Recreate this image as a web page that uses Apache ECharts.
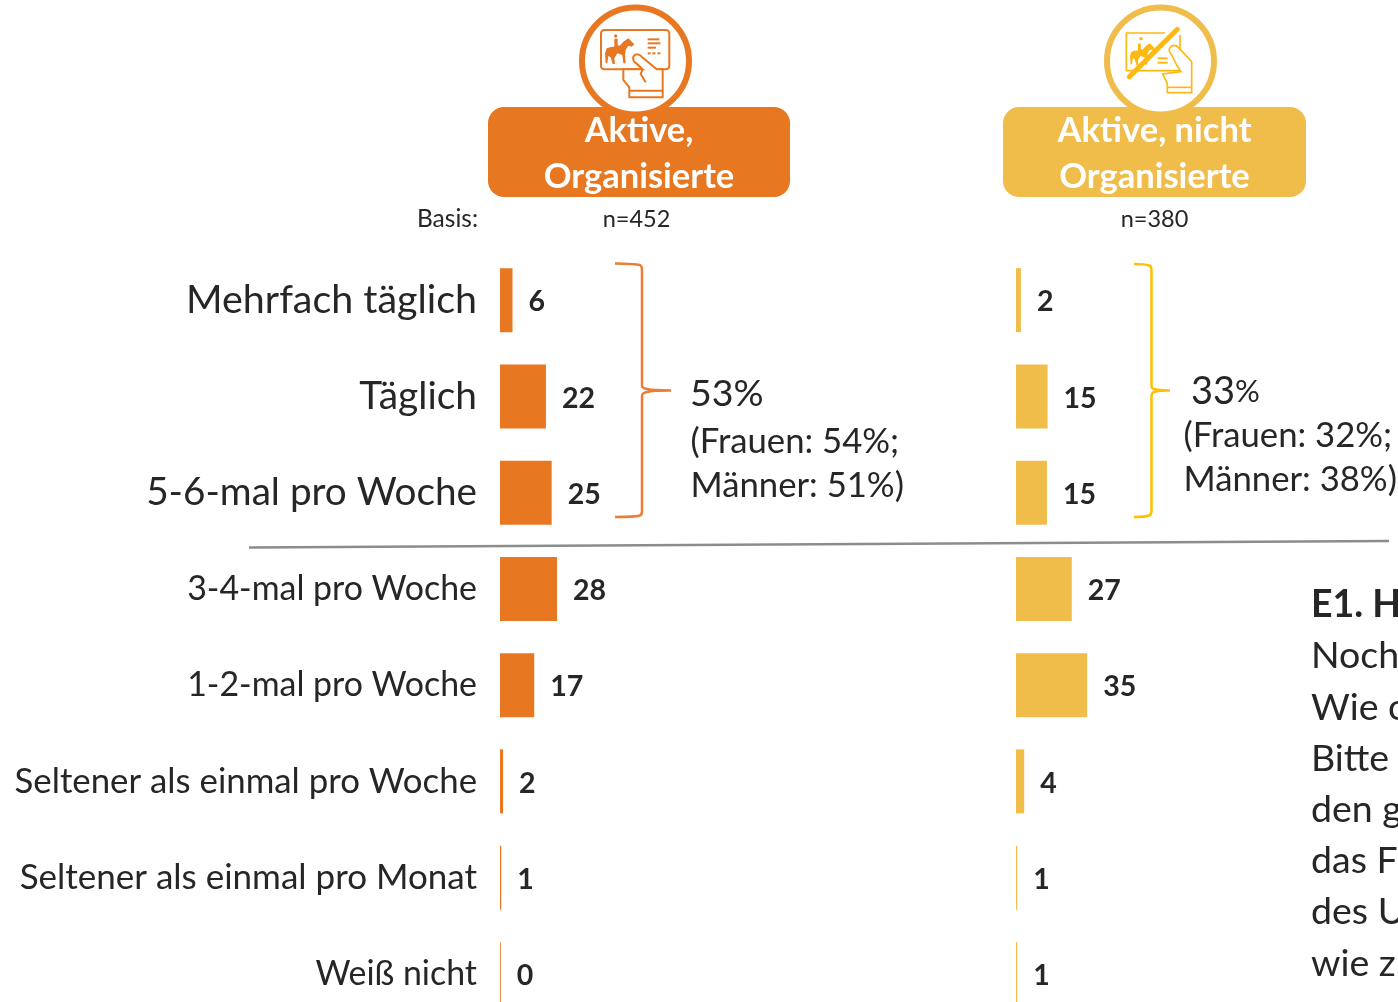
<!DOCTYPE html>
<html>
<head>
<meta charset="utf-8">
<title>Reithäufigkeit</title>
<script src="https://cdn.jsdelivr.net/npm/echarts@6/dist/echarts.min.js"></script>
<style>
    html, body { margin: 0; padding: 0; background: #fff; overflow: hidden; }
    #main { width: 1398px; height: 1002px; }
</style>
</head>
<body>
<div id="main"></div>
<script>
    var categories = ['Mehrfach täglich', 'Täglich', '5-6-mal pro Woche', '3-4-mal pro Woche', '1-2-mal pro Woche',
        'Seltener als einmal pro Woche', 'Seltener als einmal pro Monat', 'Weiß nicht'];
    // the printed labels are these values rounded
    var organisiert = [6.1, 22.4, 25.2, 27.8, 16.7, 1.5, 0.6, 0.4];
    var nichtOrganisiert = [2.4, 15.4, 15.1, 27.2, 34.7, 4.0, 0.6, 0.6];

    var orange = '#e87722', yellow = '#f0bd4b', iconYellow = '#fdb913', textColor = '#262626';
    var font = 'Lato';
    var rowFontSizes = [39.4, 38.9, 38.7, 33.9, 33.9, 34.8, 35, 33.9];

    function barSeries(xIndex, values, color) {
        return {
            type: 'bar',
            xAxisIndex: xIndex,
            yAxisIndex: xIndex,
            data: values,
            barWidth: 64,
            itemStyle: { color: color },
            silent: true,
            label: {
                show: true,
                position: 'right',
                distance: 16,
                fontFamily: font,
                fontWeight: 'bold',
                fontSize: 28.5,
                color: textColor,
                offset: [0, 2],
                formatter: function (p) { return Math.round(p.value); }
            }
        };
    }

    function txt(x, y, text, size, opts) {
        return {
            type: 'text',
            x: x,
            y: y,
            silent: true,
            style: Object.assign({
                text: text,
                fontFamily: font,
                fontSize: size,
                fill: textColor,
                align: 'left',
                verticalAlign: 'middle'
            }, opts || {})
        };
    }

    // the graphic component has no plain path type, so each outline gets registered as a shape
    var pathCount = 0;
    function svgPath(d, style, extra) {
        var name = 'outline' + (pathCount++);
        echarts.graphic.registerShape(name, echarts.graphic.extendPath(d, {}));
        return Object.assign({ type: name, silent: true, shape: {}, style: style }, extra || {});
    }

    // icon shapes are given in a 3x box, the groups below scale them back down
    var horse = 'M375 160L380 145Q395 137 415 142L430 125L445 115L463 133L455 140L445 137L437 150L435 165L437 190L430 190L427 165L412 160L403 175L405 192L398 192L392 172L385 168L382 190L377 190Z' +
        'M403 116L413 116L413 135L424 140L408 145L403 140Z';

    function iconOne() {
        var s = { fill: 'none', stroke: orange, lineWidth: 6 };
        var box = function (x, y, w, h) { return { type: 'rect', shape: { x: x, y: y, width: w, height: h }, style: { fill: orange } }; };
        return {
            type: 'group', x: 480, y: 0, scaleX: 1 / 3, scaleY: 1 / 3, silent: true,
            children: [
                { type: 'rect', shape: { x: 363, y: 90, width: 205, height: 118, r: 10 }, style: s },
                svgPath(horse, { fill: orange }),
                { type: 'circle', shape: { cx: 407, cy: 108, r: 5 }, style: { fill: orange } },
                box(503, 115, 35, 6), box(503, 127, 38, 6), box(503, 140, 25, 6),
                box(503, 157, 9, 6), box(517, 157, 9, 6), box(532, 157, 9, 6),
                svgPath('M548 208L548 292L448 292L448 262L430 240L430 208L488 208L462 184Q455 170 466 164Q476 160 485 170L530 208Z', { fill: '#fff', stroke: orange, lineWidth: 6 }),
                svgPath('M488 208L482 222L497 247M448 272L548 272', s)
            ]
        };
    }

    function iconTwo() {
        var s = { fill: 'none', stroke: iconYellow, lineWidth: 5 };
        var box = function (x, y, w, h) { return { type: 'rect', shape: { x: x, y: y, width: w, height: h }, style: { fill: iconYellow } }; };
        return {
            type: 'group', x: 990, y: 0, scaleX: 1 / 3, scaleY: 1 / 3, silent: true,
            children: [
                svgPath('M525 99L409 99L409 212L570 212L570 105', s),
                svgPath(horse, { fill: iconYellow }, { x: 45, y: 15, scaleX: 0.85, scaleY: 0.85, originX: 375, originY: 115 }),
                { type: 'circle', shape: { cx: 453, cy: 116, r: 5 }, style: { fill: iconYellow } },
                box(503, 172, 30, 6), box(503, 185, 30, 6),
                svgPath('M518 222L532 250L532 278L605 278L605 185L565 142Q552 130 540 142Q534 152 545 165L560 195L573 215L518 222Z', { fill: '#fff', stroke: iconYellow, lineWidth: 5 }),
                svgPath('M532 262L605 262', s),
                { type: 'line', shape: { x1: 418, y1: 230, x2: 562, y2: 88 }, style: { stroke: iconYellow, lineWidth: 15, lineCap: 'round' } }
            ]
        };
    }

    var graphics = [
        // header bands and icon rings
        { type: 'rect', silent: true, shape: { x: 488, y: 107, width: 302, height: 90, r: 16 }, style: { fill: orange } },
        { type: 'circle', silent: true, shape: { cx: 635.5, cy: 61, r: 53.5 }, style: { fill: '#fff', stroke: orange, lineWidth: 6 } },
        iconOne(),
        { type: 'rect', silent: true, shape: { x: 1003, y: 107, width: 303, height: 90, r: 16 }, style: { fill: yellow } },
        { type: 'circle', silent: true, shape: { cx: 1160.5, cy: 61, r: 53.5 }, style: { fill: '#fff', stroke: yellow, lineWidth: 6 } },
        iconTwo(),
        txt(639, 131, 'Aktive,', 34.5, { fill: '#fff', fontWeight: 'bold', align: 'center' }),
        txt(639, 176.5, 'Organisierte', 34.5, { fill: '#fff', fontWeight: 'bold', align: 'center' }),
        txt(1154.5, 131, 'Aktive, nicht', 34.5, { fill: '#fff', fontWeight: 'bold', align: 'center' }),
        txt(1154.5, 176.5, 'Organisierte', 34.5, { fill: '#fff', fontWeight: 'bold', align: 'center' }),
        txt(478, 219, 'Basis:', 24.5, { align: 'right' }),
        txt(636.5, 219, 'n=452', 23.5, { align: 'center' }),
        txt(1154.5, 219, 'n=380', 23.5, { align: 'center' }),

        // braces
        svgPath('M615 263.5Q635 264 640 265Q642 266 642 270L642 386Q642 388 647 389Q652 390.5 671 390.5Q652 390.5 647 392Q642 393 642 396L642 511Q642 515 640 515.5Q635 517 615 517', { fill: 'none', stroke: '#ed7d31', lineWidth: 2.5 }),
        svgPath('M1134 264Q1145 264 1149 265.5Q1151.5 266 1151.5 270L1151.5 386Q1151.5 388 1154 389Q1158 390.5 1170 390.5Q1158 390.5 1154 392Q1151.5 393 1151.5 396L1151.5 511Q1151.5 515 1149 515.5Q1145 517 1134 517', { fill: 'none', stroke: '#ffc000', lineWidth: 2.5 }),

        txt(690, 394, '53%', 37.5),
        txt(690.5, 442, '(Frauen: 54%;', 34.7),
        txt(690.5, 486, 'Männer: 51%)', 34.7),
        {
            type: 'text', silent: true, x: 1191, y: 391.5,
            style: {
                text: '{a|33}{b|%}', fontFamily: font, fill: textColor, verticalAlign: 'middle',
                rich: { a: { fontFamily: font, fontSize: 38, fill: textColor }, b: { fontFamily: font, fontSize: 31, fill: textColor } }
            }
        },
        txt(1183.5, 436, '(Frauen: 32%;', 34.7),
        txt(1183.5, 480, 'Männer: 38%)', 34.7),

        // divider between the top three rows and the rest
        { type: 'line', silent: true, shape: { x1: 249, y1: 547.5, x2: 1389, y2: 541 }, style: { stroke: '#8c8c8c', lineWidth: 2.5 } },

        // question text, runs off the right edge in the source too
        txt(1311, 605, 'E1. H', 37.5, { fontWeight: 'bold' }),
        txt(1311, 656, 'Noch', 37.5),
        txt(1311, 708, 'Wie o', 37.5),
        txt(1311, 759, 'Bitte', 37.5),
        txt(1311, 810, 'den g', 37.5),
        txt(1311, 861, 'das F', 37.5),
        txt(1311, 912, 'des U', 37.5),
        txt(1311, 964, 'wie z', 37.5)
    ];

    var rowRich = {};
    rowFontSizes.forEach(function (size, i) {
        rowRich['r' + i] = { fontFamily: font, fontSize: size, color: textColor };
    });

    var chart = echarts.init(document.getElementById('main'), null, { renderer: 'canvas' });
    var hiddenCat = {
        type: 'category', data: categories, inverse: true,
        axisLine: { show: false }, axisTick: { show: false }
    };
    chart.setOption({
        animation: false,
        backgroundColor: '#fff',
        grid: [
            { left: 500, top: 252, width: 205, height: 770, containLabel: false, outerBoundsMode: 'none' },
            { left: 1016, top: 252, width: 205, height: 770, containLabel: false, outerBoundsMode: 'none' }
        ],
        xAxis: [
            { type: 'value', gridIndex: 0, min: 0, max: 100, show: false },
            { type: 'value', gridIndex: 1, min: 0, max: 100, show: false }
        ],
        yAxis: [
            Object.assign({}, hiddenCat, {
                gridIndex: 0,
                axisLabel: {
                    margin: 23,
                    interval: 0,
                    hideOverlap: false,
                    align: 'right',
                    fontFamily: font,
                    color: textColor,
                    formatter: function (v, i) {
                        return '{r' + i + '|' + v + '}';
                    },
                    rich: rowRich
                }
            }),
            Object.assign({}, hiddenCat, { gridIndex: 1, axisLabel: { show: false } })
        ],
        series: [
            barSeries(0, organisiert, orange),
            barSeries(1, nichtOrganisiert, yellow)
        ],
        graphic: graphics
    });
</script>
</body>
</html>
